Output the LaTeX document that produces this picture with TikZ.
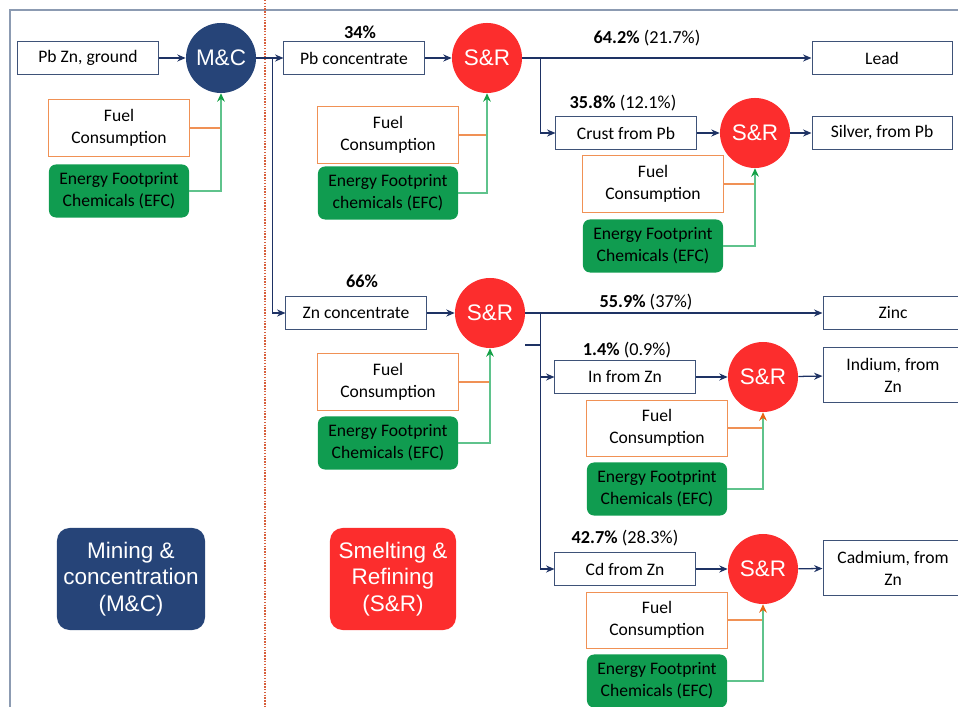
\documentclass[tikz,border=0pt]{standalone}
\usepackage{fontspec}
\setmainfont{Carlito}
\newfontfamily\arialfont{Liberation Sans}
\usetikzlibrary{arrows.meta,positioning}
\definecolor{mcblue}{RGB}{38,68,120}
\definecolor{srred}{RGB}{252,45,45}
\definecolor{efcgreen}{RGB}{16,156,80}
\definecolor{fuelorange}{RGB}{240,145,85}
\definecolor{tipgreen}{RGB}{20,160,70}
\definecolor{tiporange}{RGB}{232,100,20}
\definecolor{efcline}{RGB}{95,195,140}
\definecolor{boxedge}{RGB}{62,82,120}
\definecolor{flowblue}{RGB}{30,50,100}
\definecolor{framegray}{RGB}{140,155,178}
\definecolor{divred}{RGB}{215,95,60}
\newcommand{\bodyfont}{\fontsize{12.5}{15.5}\selectfont}
\newcommand{\pctfont}{\fontsize{13}{15.5}\selectfont}
\tikzset{
  box/.style={draw=boxedge, line width=0.7pt, minimum width=3.5cm, minimum height=0.825cm,
    inner sep=1pt, font=\bodyfont, align=center},
  tallbox/.style={box, minimum height=1.375cm},
  fuel/.style={draw=fuelorange, line width=0.7pt, minimum width=3.5cm, minimum height=1.4cm,
    inner sep=1pt, font=\bodyfont, align=center},
  efc/.style={fill=efcgreen, rounded corners=5pt, minimum width=3.5cm, minimum height=1.325cm,
    inner sep=1pt, font=\bodyfont, align=center},
  proc/.style={circle, minimum size=1.75cm, inner sep=0pt, text=white,
    font=\arialfont\fontsize{16}{19}\selectfont},
  mcproc/.style={proc, fill=mcblue},
  srproc/.style={proc, fill=srred},
  legend/.style={rounded corners=9pt, minimum height=2.55cm, inner sep=1pt, text=white,
    align=center, font=\arialfont\fontsize{16}{19}\selectfont},
  pct/.style={inner sep=1pt, font=\pctfont},
  flow/.style={draw=flowblue, line width=0.9pt, -{Stealth[length=6pt,width=5pt]}},
  fuelflow/.style={draw=fuelorange, line width=0.8pt},
  efcflow/.style={draw=efcline, line width=0.8pt, -{Stealth[length=6pt,width=5.5pt,color=tipgreen]}},
  efcflowo/.style={efcflow, -{Stealth[length=6pt,width=5.5pt,color=tiporange]}}
}
\begin{document}
\begin{tikzpicture}[x=0.025cm, y=-0.025cm]
\useasboundingbox (0,0) rectangle (958,707);
\clip (0,0) rectangle (958,707);
\draw[framegray, line width=1.5pt] (10,10) rectangle (990,740);
\draw[divred, line width=1pt, dash pattern=on 1pt off 1pt] (265,0) -- (265,707);

% mining & concentration
\node[box] (pbz) at (88,58) {Pb Zn, ground};
\node[mcproc] (mc) at (221,58) {M\&C};
\node[fuel] (f0) at (119,128) {Fuel\\Consumption};
\node[efc] (e0) at (119,191) {Energy Footprint\\Chemicals (EFC)};

% lead line
\node[box] (pbc) at (354,58) {Pb concentrate};
\node[pct] (p34) at (360,32) {\textbf{34\%}};
\node[srproc] (sr1) at (487,58) {S\&R};
\node[fuel] (f1) at (388,135) {Fuel\\Consumption};
\node[efc] (e1) at (388,193) {Energy Footprint\\chemicals (EFC)};
\node[box] (lead) at (882,58) {Lead};
\node[pct] (p642) at (647,38) {\textbf{64.2\%} (21.7\%)};
\node[box] (crust) at (626,133) {Crust from Pb};
\node[pct] (p358) at (623,103) {\textbf{35.8\%} (12.1\%)};
\node[srproc] (sr2) at (755,133) {S\&R};
\node[fuel] (f2) at (653,184) {Fuel\\Consumption};
\node[efc] (e2) at (653,246) {Energy Footprint\\Chemicals (EFC)};
\node[box] (silver) at (882,133) {Silver, from Pb};

% zinc line
\node[box] (znc) at (356,313) {Zn concentrate};
\node[pct] (p66) at (362,281) {\textbf{66\%}};
\node[srproc] (sr3) at (490,313) {S\&R};
\node[fuel] (f3) at (388,382) {Fuel\\Consumption};
\node[efc] (e3) at (388,443) {Energy Footprint\\Chemicals (EFC)};
\node[box] (zinc) at (893,313) {Zinc};
\node[pct] (p559) at (646,302) {\textbf{55.9\%} (37\%)};
\node[box] (inzn) at (625,377) {In from Zn};
\node[pct] (p14) at (627,350) {\textbf{1.4\%} (0.9\%)};
\node[srproc] (sr4) at (763,377) {S\&R};
\node[fuel] (f4) at (657,428) {Fuel\\Consumption};
\node[efc] (e4) at (657,489) {Energy Footprint\\Chemicals (EFC)};
\node[tallbox] (indium) at (893,375) {Indium, from\\Zn};
\node[box] (cdzn) at (625,569) {Cd from Zn};
\node[pct] (p427) at (625,538) {\textbf{42.7\%} (28.3\%)};
\node[srproc] (sr5) at (763,569) {S\&R};
\node[fuel] (f5) at (657,620) {Fuel\\Consumption};
\node[efc] (e5) at (657,681) {Energy Footprint\\Chemicals (EFC)};
\node[tallbox] (cadmium) at (893,568) {Cadmium, from\\Zn};
\coordinate (stub) at (525,345);

% legend
\node[legend, fill=mcblue, minimum width=3.7cm] (lmc) at (131,579) {Mining \&\\concentration\\(M\&C)};
\node[legend, fill=srred, minimum width=3.15cm] (lsr) at (393,579) {Smelting \&\\Refining\\(S\&R)};

% connectors
\draw[flow] (pbz) -- (mc);
\draw[flow] (mc) -- (pbc);
\draw[flow] (mc.east) -- ++(16,0) |- (znc);
\draw[flow] (pbc) -- (sr1);
\draw[flow] (sr1) -- (lead);
\draw[flow] (sr1.east) -- ++(18,0) |- (crust);
\draw[flow] (crust) -- (sr2);
\draw[flow] (sr2) -- (silver);
\draw[flow] (znc) -- (sr3);
\draw[flow] (sr3) -- (zinc);
\draw[flow] (sr3.east) -- ++(15,0) |- (inzn);
\draw[flow] (sr3.east) -- ++(15,0) |- (cdzn);
\draw[draw=flowblue, line width=0.9pt] (stub) -- ++(15,0);
\draw[flow] (inzn) -- (sr4);
\draw[flow] (sr4) -- (indium);
\draw[flow] (cdzn) -- (sr5);
\draw[flow] (sr5) -- (cadmium);

\foreach \f/\e/\s in {f0/e0/mc,f1/e1/sr1,f2/e2/sr2,f3/e3/sr3}{
  \draw[fuelflow] (\f.east) -- (\f.east -| \s.south);
  \draw[efcflow] (\e.east) -| (\s.south);
}
\foreach \f/\e/\s in {f4/e4/sr4,f5/e5/sr5}{
  \draw[fuelflow] (\f.east) -- (\f.east -| \s.south);
  \draw[efcflowo] (\e.east) -| (\s.south);
}
\end{tikzpicture}
\end{document}
